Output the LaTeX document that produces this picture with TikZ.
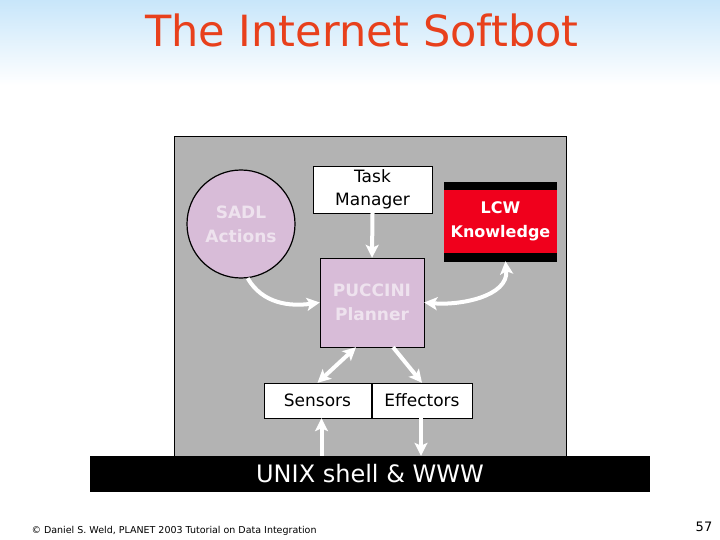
\documentclass[tikz,border=0pt]{standalone}
\usepackage{fontspec}
\setmainfont{DejaVu Sans}
\usetikzlibrary{shapes,arrows,arrows.meta,positioning,calc}

\definecolor{skyblue}{HTML}{C8E6FA}
\definecolor{titlered}{HTML}{E8401C}
\definecolor{panelgray}{HTML}{B3B3B3}
\definecolor{lilac}{HTML}{D8BCD8}
\definecolor{lilactext}{HTML}{EEE2EE}
\definecolor{lcwred}{HTML}{F0001C}

\tikzset{
    whitebox/.style={draw=black, fill=white, inner sep=0pt, align=center,
        font=\fontsize{17}{23}\selectfont},
    lilacbox/.style={draw=black, fill=lilac, inner sep=0pt, align=center,
        text=lilactext, font=\fontsize{17}{24}\selectfont\bfseries},
    flow/.style={draw=white, line width=4pt,
        >={Stealth[length=13pt,width=13pt,inset=3pt]}}
}

\begin{document}
\begin{tikzpicture}[x=1pt,y=-1pt]
    \useasboundingbox (0,0) rectangle (720,540);
    \fill[white] (0,0) rectangle (720,540);
    \shade[top color=skyblue, bottom color=white] (0,0) rectangle (720,85);

    \node[text=titlered, font=\fontsize{43}{46}\selectfont] (title) at (362,30)
        {The Internet Softbot};

    % panel and shell bar
    \draw[fill=panelgray] (174,136) rectangle (566,456);
    \node[fill=black, minimum width=560pt, minimum height=36pt, inner sep=0pt,
        text=white, font=\fontsize{24}{28}\selectfont] (shell) at (370,474)
        {UNIX shell \& WWW};

    \node[lilacbox, circle, line width=1.2pt, minimum size=108pt] (sadl) at (241,224)
        {SADL\\Actions};
    \node[whitebox, minimum width=119pt, minimum height=47pt] (task) at (372.5,189.5)
        {Task\\Manager};
    \fill[black] (444,182) rectangle (557,262);
    \node[fill=lcwred, minimum width=113pt, minimum height=63pt, inner sep=0pt,
        align=center, text=white, font=\fontsize{16}{24}\selectfont\bfseries]
        (lcw) at (500.5,221.5) {LCW\\Knowledge};
    \node[lilacbox, minimum width=104pt, minimum height=89pt] (planner) at (372,302.5)
        {PUCCINI\\Planner};
    \node[whitebox, minimum width=107pt, minimum height=35pt] (sensors) at (317.5,400.5)
        {Sensors};
    \node[whitebox, minimum width=100pt, minimum height=35pt] (effectors) at (422,400.5)
        {Effectors};

    % connectors
    \draw[flow,->] (task.south) -- (planner.north);
    \draw[flow,->] (sadl.-83) to[out=-60,in=188] (planner.west);
    \draw[flow,<->] (planner.east) to[out=-5,in=-85] ($(lcw.south)+(5,8)$);
    \draw[flow,<->] ($(planner.south)+(-16,0)$) -- (sensors.north);
    \draw[flow,->] ($(planner.south)+(21,0)$) -- (effectors.north);
    \draw[flow,->] ($(sensors.south |- shell.north)+(4,0)$) -- ($(sensors.south)+(4,0)$);
    \draw[flow,->] ($(effectors.south)+(-1,0)$) -- ($(effectors.south |- shell.north)+(-1,0)$);

    \node[anchor=west, font=\fontsize{9.5}{11}\selectfont] (credit) at (28,531)
        {\copyright{} Daniel S. Weld, PLANET 2003 Tutorial on Data Integration};
    \node[font=\fontsize{13}{15}\selectfont] (page) at (704,527) {57};
\end{tikzpicture}
\end{document}
